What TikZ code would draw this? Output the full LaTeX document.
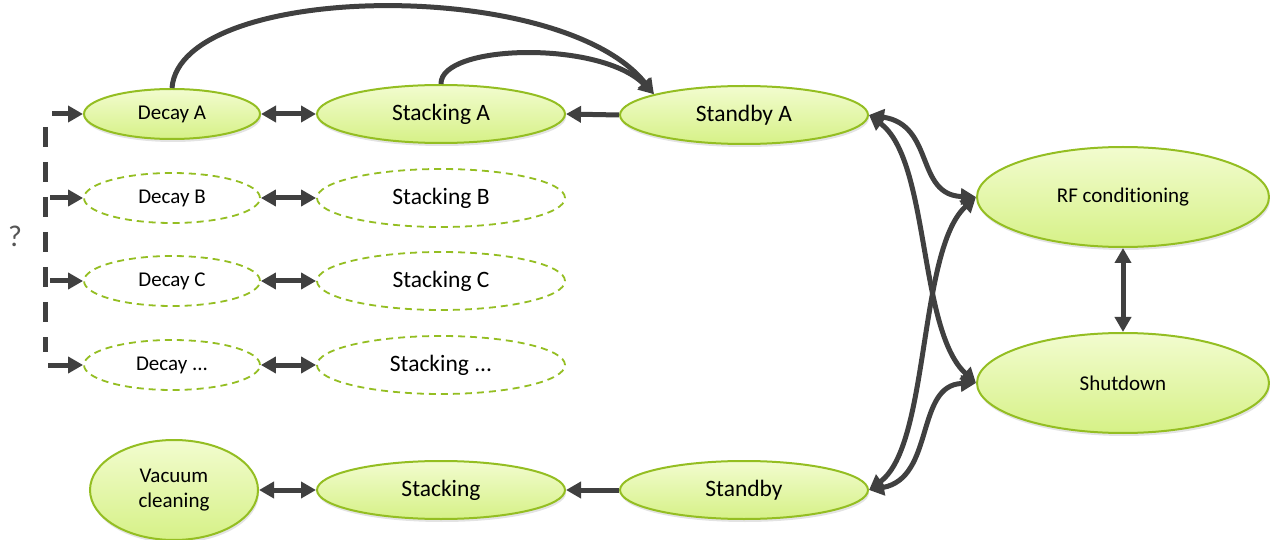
\documentclass[tikz,border=0pt]{standalone}
\usepackage{fontspec}
\setmainfont[Ligatures={NoCommon}]{Carlito}
\usetikzlibrary{arrows.meta,shapes.geometric,shadows}
\definecolor{arr}{HTML}{404040}
\definecolor{qcol}{HTML}{555555}
\definecolor{gborder}{HTML}{94BE22}
\definecolor{gtop}{HTML}{F2FCCF}
\definecolor{gbot}{HTML}{D6F187}
\tikzset{
  st/.style={ellipse, draw=gborder, line width=2pt, top color=gtop, bottom color=gbot,
    inner sep=0pt, align=center,
    drop shadow={opacity=0.22, shadow xshift=1pt, shadow yshift=-3pt}},
  ghost/.style={ellipse, draw=gborder, line width=1.8pt, dash pattern=on 7pt off 5pt,
    inner sep=0pt, fill=white},
  smalltxt/.style={font=\fontsize{21}{25}\selectfont},
  bigtxt/.style={font=\fontsize{23.5}{27}\selectfont},
  dsize/.style={minimum width=176, minimum height=50},
  ssize/.style={minimum width=248, minimum height=58},
  bsize/.style={minimum width=292, minimum height=100},
  conn/.style={draw=arr, line width=5pt, arrows={-Triangle[length=15pt,width=16pt]}},
  bconn/.style={draw=arr, line width=5pt, arrows={Triangle[length=15pt,width=16pt]-Triangle[length=15pt,width=16pt]}},
}
\begin{document}
\begin{tikzpicture}[x=1pt,y=-1pt]
\useasboundingbox (0,0) rectangle (1270,540);

% nodes
\node[st, dsize, smalltxt] (da) at (172,114) {Decay A};
\node[st, ssize, bigtxt] (sa) at (441,114) {Stacking A};
\node[st, ssize, bigtxt] (sba) at (744,115) {Standby A};

\node[ghost, dsize, smalltxt] (db) at (172,198) {Decay B};
\node[ghost, ssize, bigtxt] (sb) at (441,198) {Stacking B};
\node[ghost, dsize, smalltxt] (dc) at (172,281) {Decay C};
\node[ghost, ssize, bigtxt] (sc) at (441,281) {Stacking C};
\node[ghost, dsize, smalltxt] (dd) at (172,365) {Decay ...};
\node[ghost, ssize, bigtxt] (sd) at (441,365) {Stacking ...};

\node[st, bsize, smalltxt] (rf) at (1123,197) {RF conditioning};
\node[st, bsize, smalltxt] (sh) at (1123,383) {Shutdown};

\node[st, minimum width=168, minimum height=100, smalltxt] (vc) at (174,490) {Vacuum\\cleaning};
\node[st, ssize, bigtxt] (stk) at (441,490) {Stacking};
\node[st, ssize, bigtxt] (sby) at (744,490) {Standby};

\node[font=\fontsize{30}{34}\selectfont, text=qcol] (q) at (15,236) {?};

% left bracket
\coordinate (btop) at (45,127);
\coordinate (bbot) at (45,352);
\coordinate (la) at (52,114);
\coordinate (lb) at (50,198);
\coordinate (lc) at (50,281);
\coordinate (ld) at (48,365);
\draw[draw=arr, line width=5pt, dash pattern=on 20pt off 15pt] (btop) -- (bbot);
\draw[conn] (la) -- (da.west);
\draw[conn] (lb) -- (db.west);
\draw[conn] (lc) -- (dc.west);
\draw[conn] (ld) -- (dd.west);

% horizontal links
\draw[bconn] (da.east) -- (sa.west);
\draw[bconn] (db.east) -- (sb.west);
\draw[bconn] (dc.east) -- (sc.west);
\draw[bconn] (dd.east) -- (sd.west);
\draw[conn] (sba.west) -- (sa.east);
\draw[conn] (sby.west) -- (stk.east);
\draw[bconn] (vc.east) -- (stk.west);
\draw[bconn] (rf.south) -- (sh.north);

% top curves
\draw[conn] (da.north) .. controls (180,-18) and (560,-24) .. (sba.167);
\draw[conn] (sa.north) .. controls (440,44) and (600,40) .. (sba.167);

% right side curves
\draw[bconn] (sba.east) .. controls (935,125) and (915,195) .. (rf.west);
\draw[bconn] (sba.east) .. controls (930,160) and (918,330) .. (sh.west);
\draw[bconn] (sby.east) .. controls (930,445) and (918,250) .. (rf.west);
\draw[bconn] (sby.east) .. controls (935,478) and (915,385) .. (sh.west);
\end{tikzpicture}
\end{document}
